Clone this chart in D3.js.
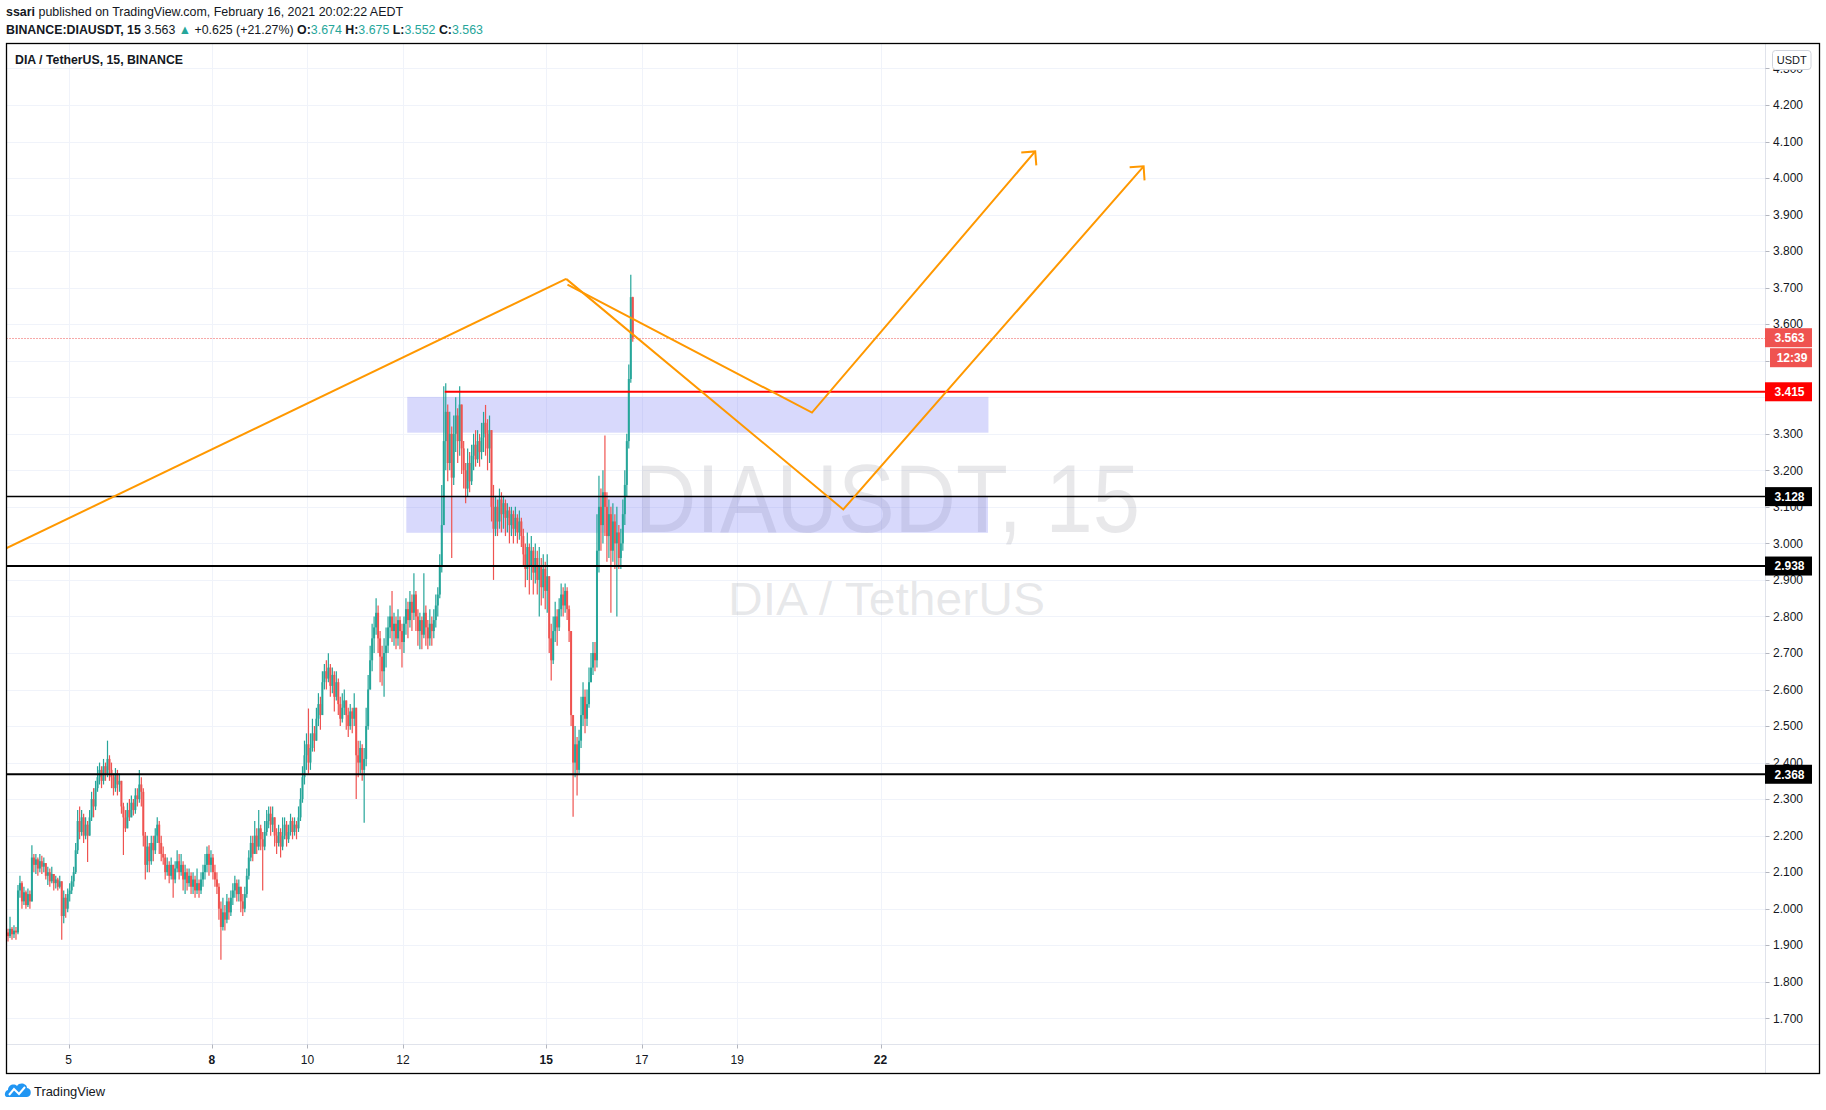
<!DOCTYPE html>
<html>
<head>
<meta charset="utf-8">
<script src="https://cdn.jsdelivr.net/npm/d3@7"></script>
<style>
  html, body { margin: 0; padding: 0; background: #fff; }
  svg { display: block; font-family: "Liberation Sans", Arial, sans-serif; }
</style>
</head>
<body>
<div id="chart"></div>
<script>
// hourly candles, first one opens Feb 3 17:00
const startTime = Date.UTC(2021, 1, 3, 17);
const firstOpen = 1.935;
const closes = [
  1.925, 1.945, 1.93, 1.94, 1.935, 2.05, 2.07, 2.02, 2.045, 2.01,
  2.04, 2.02, 2.14, 2.12, 2.135, 2.11, 2.13, 2.115, 2.125, 2.09,
  2.1, 2.075, 2.095, 2.07, 2.08, 2.06, 2.075, 1.98, 2.03, 2.0,
  2.04, 2.05, 2.075, 2.1, 2.16, 2.24, 2.21, 2.25, 2.2, 2.23,
  2.2, 2.25, 2.3, 2.28, 2.33, 2.36, 2.38, 2.35, 2.39, 2.37,
  2.41, 2.38, 2.36, 2.33, 2.37, 2.34, 2.35, 2.28, 2.25, 2.22,
  2.27, 2.25, 2.29, 2.27, 2.31, 2.3, 2.34, 2.32, 2.2, 2.12,
  2.17, 2.13, 2.18, 2.16, 2.2, 2.23, 2.18, 2.15, 2.14, 2.1,
  2.12, 2.09, 2.12, 2.08, 2.11, 2.13, 2.1, 2.12, 2.08, 2.1,
  2.07, 2.09, 2.06, 2.08, 2.05, 2.07, 2.05, 2.08, 2.1, 2.12,
  2.15, 2.12, 2.14, 2.1, 2.08, 2.06, 2.0, 1.95, 1.99, 1.97,
  2.02, 1.99, 2.03, 2.05, 2.07, 2.04, 2.06, 2.02, 2.0, 2.04,
  2.09, 2.14, 2.18, 2.15, 2.2, 2.17, 2.22, 2.19, 2.17, 2.21,
  2.24, 2.26, 2.23, 2.25, 2.2, 2.18, 2.21, 2.17, 2.2, 2.23,
  2.19, 2.21, 2.24, 2.21, 2.23, 2.22, 2.25, 2.3, 2.36, 2.42,
  2.45, 2.4, 2.44, 2.48, 2.46, 2.52, 2.56, 2.53, 2.62, 2.65,
  2.63, 2.66, 2.61, 2.64, 2.58, 2.62, 2.56, 2.52, 2.55, 2.57,
  2.53, 2.5, 2.54, 2.52, 2.55, 2.42, 2.4, 2.44, 2.38, 2.41,
  2.5, 2.6, 2.68, 2.74, 2.77, 2.81, 2.74, 2.69, 2.65, 2.7,
  2.72, 2.77, 2.8, 2.76, 2.78, 2.74, 2.79, 2.76, 2.73, 2.78,
  2.82, 2.79, 2.84, 2.81, 2.86, 2.8, 2.76, 2.79, 2.75, 2.81,
  2.77, 2.74, 2.78, 2.76, 2.79, 2.83, 2.86, 2.94, 3.05, 3.28,
  3.36, 3.22, 3.3, 3.18, 3.3, 3.35, 3.28, 3.38, 3.26, 3.2,
  3.15, 3.22, 3.17, 3.24, 3.27, 3.23, 3.28, 3.25, 3.29, 3.33,
  3.3, 3.26, 3.31, 3.1, 3.04, 3.1, 3.06, 3.12, 3.08, 3.11,
  3.07, 3.09, 3.05, 3.08, 3.04, 3.07, 3.03, 3.06, 3.02, 2.97,
  2.93, 2.99, 2.94, 2.98, 2.92, 2.96, 2.9, 2.94, 2.88, 2.93,
  2.87, 2.91, 2.74, 2.68, 2.76, 2.8, 2.77, 2.82, 2.86, 2.83,
  2.87, 2.82, 2.76, 2.53, 2.4, 2.45, 2.38, 2.46, 2.53, 2.58,
  2.52, 2.56, 2.62, 2.66, 2.7, 2.68, 2.98, 3.1, 3.05, 3.14,
  3.1, 3.02, 3.08, 2.98, 3.06, 3.0, 3.03, 2.96, 3.0, 3.08,
  3.16, 3.28, 3.45, 3.674, 3.563
];
const highs = [
  1.945, 1.978, 1.95, 1.955, 1.95, 2.065, 2.09, 2.075, 2.06, 2.05,
  2.055, 2.05, 2.174, 2.15, 2.15, 2.14, 2.15, 2.145, 2.14, 2.125,
  2.115, 2.11, 2.115, 2.09, 2.09, 2.085, 2.09, 2.07, 2.05, 2.04,
  2.055, 2.07, 2.09, 2.115, 2.18, 2.27, 2.28, 2.27, 2.26, 2.25,
  2.24, 2.27, 2.32, 2.33, 2.35, 2.39, 2.40, 2.39, 2.41, 2.40,
  2.46, 2.42, 2.4, 2.37, 2.385, 2.38, 2.37, 2.35, 2.29, 2.27,
  2.29, 2.3, 2.31, 2.30, 2.33, 2.33, 2.38, 2.36, 2.33, 2.21,
  2.2, 2.18, 2.2, 2.2, 2.22, 2.25, 2.24, 2.2, 2.17, 2.15,
  2.14, 2.13, 2.14, 2.12, 2.13, 2.16, 2.15, 2.15, 2.13, 2.12,
  2.11, 2.11, 2.1, 2.1, 2.09, 2.11, 2.08, 2.1, 2.12, 2.15,
  2.17, 2.174, 2.16, 2.15, 2.12, 2.1, 2.07, 2.02, 2.03, 2.01,
  2.04, 2.03, 2.05, 2.07, 2.09, 2.08, 2.08, 2.06, 2.04, 2.06,
  2.11, 2.16, 2.2, 2.2, 2.24, 2.22, 2.27, 2.23, 2.21, 2.24,
  2.27, 2.28, 2.28, 2.28, 2.25, 2.22, 2.23, 2.22, 2.25, 2.25,
  2.24, 2.23, 2.26, 2.25, 2.25, 2.24, 2.28, 2.33, 2.39, 2.46,
  2.48, 2.548, 2.48, 2.52, 2.5, 2.55, 2.59, 2.58, 2.65, 2.67,
  2.68, 2.699, 2.67, 2.66, 2.65, 2.65, 2.63, 2.58, 2.59, 2.6,
  2.57, 2.55, 2.56, 2.55, 2.59, 2.53, 2.46, 2.46, 2.45, 2.44,
  2.55, 2.64, 2.72, 2.78, 2.8, 2.85, 2.83, 2.76, 2.72, 2.74,
  2.77, 2.8, 2.83, 2.87, 2.81, 2.8, 2.82, 2.8, 2.78, 2.8,
  2.85, 2.84, 2.87, 2.86, 2.918, 2.87, 2.82, 2.81, 2.8, 2.918,
  2.83, 2.79, 2.82, 2.8, 2.82, 2.86, 2.88, 2.97, 3.16, 3.43,
  3.438, 3.38, 3.36, 3.32, 3.35, 3.4, 3.37, 3.43, 3.38, 3.28,
  3.22, 3.26, 3.25, 3.27, 3.3, 3.31, 3.31, 3.3, 3.33, 3.36,
  3.379, 3.34, 3.35, 3.3, 3.16, 3.13, 3.12, 3.15, 3.14, 3.13,
  3.12, 3.11, 3.1, 3.1, 3.09, 3.1, 3.08, 3.09, 3.07, 3.04,
  3.0, 3.03, 3.0, 3.02, 2.99, 3.0, 2.98, 2.99, 2.96, 2.97,
  2.95, 2.97, 2.9, 2.78, 2.8, 2.84, 2.82, 2.85, 2.89, 2.88,
  2.89, 2.88, 2.83, 2.76, 2.52, 2.5, 2.47, 2.49, 2.58, 2.62,
  2.6, 2.6, 2.66, 2.7, 2.73, 2.73, 3.08, 3.185, 3.15, 3.2,
  3.295, 3.14, 3.12, 3.1, 3.11, 3.08, 3.1, 3.05, 3.04, 3.12,
  3.2, 3.3, 3.49, 3.735, 3.675
];
const lows = [
  1.91, 1.92, 1.915, 1.92, 1.915, 1.93, 2.03, 2.0, 2.01, 2.0,
  2.005, 2.0, 2.02, 2.1, 2.095, 2.09, 2.1, 2.095, 2.1, 2.08,
  2.065, 2.06, 2.07, 2.05, 2.055, 2.05, 2.055, 1.915, 1.96, 1.975,
  1.99, 2.02, 2.04, 2.06, 2.095, 2.15, 2.19, 2.2, 2.18, 2.19,
  2.128, 2.2, 2.24, 2.25, 2.27, 2.32, 2.34, 2.33, 2.34, 2.35,
  2.36, 2.35, 2.33, 2.31, 2.32, 2.31, 2.32, 2.26, 2.147, 2.21,
  2.22, 2.24, 2.25, 2.255, 2.26, 2.28, 2.29, 2.28, 2.17, 2.08,
  2.1, 2.1, 2.12, 2.13, 2.15, 2.18, 2.15, 2.13, 2.12, 2.08,
  2.09, 2.07, 2.08, 2.03, 2.07, 2.1, 2.08, 2.09, 2.05, 2.04,
  2.05, 2.06, 2.04, 2.04, 2.03, 2.04, 2.03, 2.04, 2.06, 2.08,
  2.1, 2.09, 2.1, 2.08, 2.06, 2.04, 1.97, 1.86, 1.94, 1.94,
  1.96, 1.97, 1.98, 2.01, 2.03, 2.02, 2.02, 1.99, 1.98, 1.99,
  2.03, 2.08, 2.13, 2.13, 2.15, 2.15, 2.16, 2.16, 2.05, 2.16,
  2.2, 2.22, 2.2, 2.21, 2.17, 2.15, 2.17, 2.14, 2.16, 2.19,
  2.17, 2.18, 2.2, 2.19, 2.2, 2.19, 2.21, 2.24, 2.29, 2.34,
  2.38, 2.37, 2.38, 2.43, 2.43, 2.47, 2.5, 2.49, 2.55, 2.6,
  2.6, 2.62, 2.58, 2.59, 2.54, 2.57, 2.53, 2.5, 2.51, 2.53,
  2.49, 2.47, 2.49, 2.48, 2.5, 2.30, 2.36, 2.37, 2.35, 2.235,
  2.39, 2.49, 2.6, 2.65, 2.7, 2.75, 2.7, 2.62, 2.61, 2.58,
  2.66, 2.7, 2.74, 2.73, 2.72, 2.71, 2.72, 2.71, 2.66, 2.7,
  2.75, 2.74, 2.77, 2.76, 2.79, 2.76, 2.72, 2.71, 2.71, 2.74,
  2.72, 2.71, 2.72, 2.72, 2.74, 2.77, 2.8, 2.85, 2.92, 3.05,
  3.2, 3.17, 3.2, 2.96, 3.16, 3.25, 3.22, 3.24, 3.19, 3.15,
  3.11, 3.13, 3.14, 3.16, 3.2, 3.21, 3.22, 3.21, 3.23, 3.25,
  3.24, 3.2, 3.22, 3.06, 2.9, 3.02, 3.02, 3.04, 3.03, 3.04,
  3.02, 3.03, 3.0, 3.02, 3.0, 3.02, 3.0, 3.01, 2.99, 2.94,
  2.88, 2.9, 2.86, 2.9, 2.86, 2.89, 2.86, 2.8, 2.83, 2.85,
  2.82, 2.81, 2.7, 2.625, 2.67, 2.73, 2.72, 2.76, 2.8, 2.8,
  2.81, 2.79, 2.73, 2.5, 2.252, 2.36, 2.31, 2.37, 2.44, 2.5,
  2.48, 2.5, 2.55, 2.62, 2.64, 2.65, 2.66, 2.92, 2.98, 3.0,
  3.02, 2.95, 2.96, 2.81, 2.95, 2.93, 2.8, 2.93, 2.93, 2.98,
  3.05, 3.13, 3.26, 3.44, 3.552
];

const priceTicks = d3.range(17, 44).map(v => v / 10);
const dayTicks = [5, 8, 10, 12, 15, 17, 19, 22];
const weekStarts = [8, 15, 22];
const supportLevels = [3.128, 2.938, 2.368];
const supportWidths = [1.5, 2, 2];
const resistancePrice = 3.415;
const resistanceFromDay = 12.875;
const lastPrice = 3.563;
const countdown = "12:39";

// zones: [from day, to day, top price, bottom price]
const zoneFrom = [12.09, 12.07];
const zoneTo = [24.26, 24.25];
const zoneTop = [3.401, 3.130];
const zoneBottom = [3.303, 3.029];

// drawing points as [day of Feb, price]
const trendLine = [[3.70, 2.987], [15.417, 3.724]];
const upperPath = [[15.445, 3.708], [20.565, 3.358], [25.24, 4.073]];
const lowerPath = [[15.417, 3.724], [21.22, 3.093], [27.51, 4.032]];

const W = 1826, H = 1110;
const pane = { left: 6.5, top: 43.5, right: 1819.5, bottom: 1073.5 };
const plotRight = 1765.5, plotBottom = 1044.5;

const dayDate = d => new Date(Date.UTC(2021, 1, 1) + (d - 1) * 864e5);
const x = d3.scaleUtc().domain([dayDate(5), dayDate(22)]).range([68.7, 880.5]);
const y = d3.scaleLinear().domain([4.2, 1.7]).range([105, 1018.3]);

const up = "#26a69a", down = "#ef5350";

const svg = d3.select("#chart").append("svg")
  .attr("width", W).attr("height", H);

svg.append("defs").append("clipPath").attr("id", "plot")
  .append("rect")
  .attr("x", pane.left + 0.5).attr("y", pane.top + 0.5)
  .attr("width", plotRight - pane.left - 0.5)
  .attr("height", plotBottom - pane.top - 0.5);

// header
const head1 = svg.append("text").attr("x", 6).attr("y", 16)
  .attr("font-size", 13).attr("fill", "#131722")
  .attr("textLength", 397).attr("lengthAdjust", "spacingAndGlyphs");
head1.append("tspan").attr("font-weight", 700).text("ssari");
head1.append("tspan").text(" published on TradingView.com, February 16, 2021 20:02:22 AEDT");

const head2 = svg.append("text").attr("x", 6).attr("y", 34)
  .attr("font-size", 13).attr("fill", "#131722")
  .attr("textLength", 477).attr("lengthAdjust", "spacingAndGlyphs");
[
  ["BINANCE:DIAUSDT, 15", 700, "#131722"],
  [" 3.563 ", 400, "#131722"],
  ["\u25B2", 400, up],
  [" +0.625 (+21.27%) ", 400, "#131722"],
  ["O:", 700, "#131722"], ["3.674", 400, up],
  [" H:", 700, "#131722"], ["3.675", 400, up],
  [" L:", 700, "#131722"], ["3.552", 400, up],
  [" C:", 700, "#131722"], ["3.563", 400, up]
].forEach(([t, w, c]) => head2.append("tspan").attr("font-weight", w).attr("fill", c).text(t));

// grid
const grid = svg.append("g");
grid.selectAll(".hg").data(priceTicks).join("line")
  .attr("x1", pane.left).attr("x2", plotRight)
  .attr("y1", d => Math.round(y(d)) + 0.5).attr("y2", d => Math.round(y(d)) + 0.5)
  .attr("stroke", "#f0f3fa");
grid.selectAll(".vg").data(dayTicks).join("line")
  .attr("x1", d => Math.round(x(dayDate(d))) + 0.5).attr("x2", d => Math.round(x(dayDate(d))) + 0.5)
  .attr("y1", pane.top).attr("y2", plotBottom)
  .attr("stroke", "#f0f3fa");

// watermark
svg.append("text").attr("x", 635).attr("y", 532)
  .attr("font-size", 96).attr("fill", "#9598a1").attr("fill-opacity", 0.22)
  .attr("textLength", 505).attr("lengthAdjust", "spacingAndGlyphs")
  .text("DIAUSDT, 15");
svg.append("text").attr("x", 886.5).attr("y", 615).attr("text-anchor", "middle")
  .attr("font-size", 46).attr("fill", "#9598a1").attr("fill-opacity", 0.22)
  .attr("textLength", 317).attr("lengthAdjust", "spacingAndGlyphs")
  .text("DIA / TetherUS");

const plot = svg.append("g").attr("clip-path", "url(#plot)");

// zones
plot.selectAll(".zone").data(zoneFrom).join("rect")
  .attr("x", (d, i) => x(dayDate(d)))
  .attr("width", (d, i) => x(dayDate(zoneTo[i])) - x(dayDate(d)))
  .attr("y", (d, i) => y(zoneTop[i]))
  .attr("height", (d, i) => y(zoneBottom[i]) - y(zoneTop[i]))
  .attr("fill", "#6a6cf5").attr("fill-opacity", 0.26);

// candles
const candles = closes.map((c, i) => {
  const o = i === 0 ? firstOpen : closes[i - 1];
  return {
    t: new Date(startTime + i * 3600e3 + 1800e3),
    o, c,
    h: Math.max(highs[i], o, c),
    l: Math.min(lows[i], o, c)
  };
});
const cg = plot.append("g");
cg.selectAll(".wick").data(candles).join("line")
  .attr("x1", d => x(d.t)).attr("x2", d => x(d.t))
  .attr("y1", d => y(d.h)).attr("y2", d => y(d.l))
  .attr("stroke", d => d.c >= d.o ? up : down).attr("stroke-width", 1.2);
cg.selectAll(".body").data(candles).join("rect")
  .attr("x", d => x(d.t) - 1).attr("width", 2)
  .attr("y", d => y(Math.max(d.o, d.c)))
  .attr("height", d => Math.max(1, Math.abs(y(d.o) - y(d.c))))
  .attr("fill", d => d.c >= d.o ? up : down);

// levels
plot.selectAll(".lvl").data(supportLevels).join("line")
  .attr("x1", pane.left).attr("x2", plotRight)
  .attr("y1", d => y(d)).attr("y2", d => y(d))
  .attr("stroke", "#000").attr("stroke-width", (d, i) => supportWidths[i]);
plot.append("line")
  .attr("x1", x(dayDate(resistanceFromDay))).attr("x2", plotRight)
  .attr("y1", y(resistancePrice)).attr("y2", y(resistancePrice))
  .attr("stroke", "#ff0000").attr("stroke-width", 2);
plot.append("line")
  .attr("x1", pane.left).attr("x2", plotRight)
  .attr("y1", Math.round(y(lastPrice)) + 0.5).attr("y2", Math.round(y(lastPrice)) + 0.5)
  .attr("stroke", down).attr("stroke-dasharray", "1 2");

// drawings
const line = d3.line().x(d => x(dayDate(d[0]))).y(d => y(d[1]));
[trendLine, upperPath, lowerPath].forEach(pts => {
  plot.append("path").attr("d", line(pts))
    .attr("fill", "none").attr("stroke", "#ff9800").attr("stroke-width", 2)
    .attr("stroke-linejoin", "miter");
});
[upperPath, lowerPath].forEach(pts => {
  const a = pts[pts.length - 2], b = pts[pts.length - 1];
  const bx = x(dayDate(b[0])), by = y(b[1]);
  const ang = Math.atan2(by - y(a[1]), bx - x(dayDate(a[0])));
  const len = 14;
  const arm = s => [bx - len * Math.cos(ang + s), by - len * Math.sin(ang + s)];
  plot.append("path")
    .attr("d", d3.line()([arm(Math.PI / 4), [bx, by], arm(-Math.PI / 4)]))
    .attr("fill", "none").attr("stroke", "#ff9800").attr("stroke-width", 2);
});

// title
svg.append("text").attr("x", 15).attr("y", 64)
  .attr("font-size", 12.5).attr("font-weight", 700).attr("fill", "#131722")
  .attr("textLength", 168).attr("lengthAdjust", "spacingAndGlyphs")
  .text("DIA / TetherUS, 15, BINANCE");

// axis separators
svg.append("line").attr("x1", plotRight).attr("x2", plotRight)
  .attr("y1", pane.top).attr("y2", pane.bottom).attr("stroke", "#e0e3eb");
svg.append("line").attr("x1", pane.left).attr("x2", pane.right)
  .attr("y1", plotBottom).attr("y2", plotBottom).attr("stroke", "#e0e3eb");

// price axis
const pa = svg.append("g");
pa.selectAll(".tk").data(priceTicks).join("line")
  .attr("x1", plotRight).attr("x2", plotRight + 4)
  .attr("y1", d => Math.round(y(d)) + 0.5).attr("y2", d => Math.round(y(d)) + 0.5)
  .attr("stroke", "#b2b5be");
pa.selectAll(".tl").data(priceTicks).join("text")
  .attr("x", 1773).attr("y", d => y(d)).attr("dy", "0.35em")
  .attr("font-size", 12).attr("fill", "#131722")
  .text(d => d3.format(".3f")(d));

// USDT badge
svg.append("rect").attr("x", 1772.5).attr("y", 50.5).attr("width", 38.5).attr("height", 19)
  .attr("rx", 3).attr("fill", "#fff").attr("stroke", "#d1d4dc");
svg.append("text").attr("x", 1791.7).attr("y", 60).attr("dy", "0.35em")
  .attr("text-anchor", "middle").attr("font-size", 11).attr("fill", "#131722").text("USDT");

// price labels
const tag = (bg, text, x0, yc) => {
  svg.append("rect").attr("x", x0).attr("y", yc - 9.5).attr("width", 1812 - x0).attr("height", 19)
    .attr("fill", bg);
  svg.append("text").attr("x", (x0 + 1812) / 2 + 1).attr("y", yc).attr("dy", "0.36em")
    .attr("text-anchor", "middle").attr("font-size", 12).attr("font-weight", 700)
    .attr("fill", "#fff").text(text);
};
supportLevels.forEach(p => tag("#000", d3.format(".3f")(p), 1765, y(p)));
tag("#ff0000", d3.format(".3f")(resistancePrice), 1765, y(resistancePrice));
tag(down, d3.format(".3f")(lastPrice), 1765, y(lastPrice));
tag(down, countdown, 1770, y(lastPrice) + 20);

// time axis
const ta = svg.append("g");
ta.selectAll(".tk").data(dayTicks).join("line")
  .attr("x1", d => Math.round(x(dayDate(d))) + 0.5).attr("x2", d => Math.round(x(dayDate(d))) + 0.5)
  .attr("y1", plotBottom).attr("y2", plotBottom + 4)
  .attr("stroke", "#b2b5be");
ta.selectAll(".tl").data(dayTicks).join("text")
  .attr("x", d => x(dayDate(d))).attr("y", 1060).attr("dy", "0.35em")
  .attr("text-anchor", "middle").attr("font-size", 12)
  .attr("font-weight", d => weekStarts.includes(d) ? 700 : 400)
  .attr("fill", "#131722")
  .text(d => d);

// pane border
svg.append("rect")
  .attr("x", pane.left).attr("y", pane.top)
  .attr("width", pane.right - pane.left).attr("height", pane.bottom - pane.top)
  .attr("fill", "none").attr("stroke", "#000").attr("stroke-width", 1.3);

// footer logo
const logo = svg.append("g");
logo.append("path")
  .attr("d", "M7,1097 C4,1097 4,1091 8,1090 C8,1085 14,1083 17,1086 C19,1082 27,1083 27,1088 C32,1088 32,1097 27,1097 Z")
  .attr("fill", "#2196f3");
logo.append("path")
  .attr("d", "M9,1095 L14,1089 L19,1094 L25,1087")
  .attr("fill", "none").attr("stroke", "#fff").attr("stroke-width", 2);
svg.append("text").attr("x", 34).attr("y", 1091).attr("dy", "0.35em")
  .attr("font-size", 13).attr("fill", "#131722")
  .attr("textLength", 71).attr("lengthAdjust", "spacingAndGlyphs")
  .text("TradingView");
</script>
</body>
</html>
